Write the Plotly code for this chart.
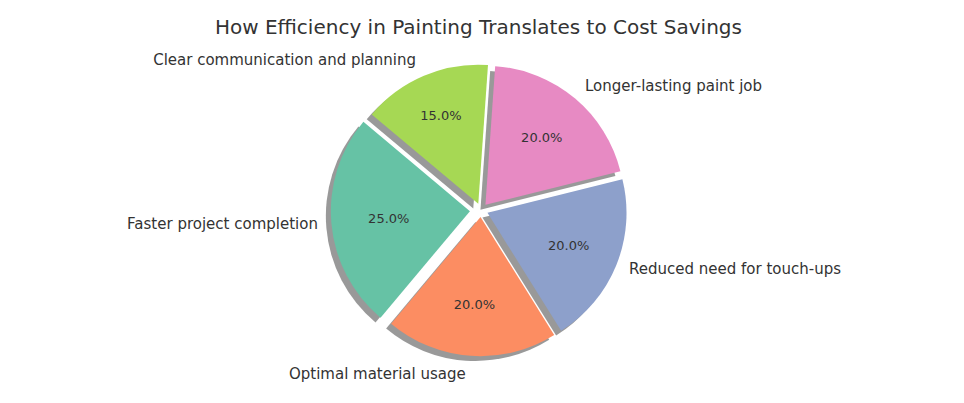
import plotly.graph_objects as go

categories = ["Faster project completion", "Optimal material usage",
              "Reduced need for touch-ups", "Longer-lasting paint job",
              "Clear communication and planning"]
values = [25, 20, 20, 20, 15]
colors = ["#66c2a5", "#fc8d62", "#8da0cb", "#e78ac3", "#a6d854"]
pulls = [0.08, 0.05, 0.05, 0.05, 0.05]

W, H = 964, 403
cx, cy = 473, 210      # pie centre in px from top-left
half = 156             # half-size of pie domain in px
sdx, sdy = -5, 5       # shadow offset in px
label_scale = 1.06     # labels sit slightly outside the wedges

def dom(dx=0, dy=0, s=1.0):
    h = half * s
    x0 = (cx + dx - h) / W
    x1 = (cx + dx + h) / W
    y0 = (H - (cy + dy) - h) / H
    y1 = (H - (cy + dy) + h) / H
    return dict(x=[x0, x1], y=[y0, y1])

common = dict(values=values, labels=categories, sort=False,
              direction="counterclockwise", rotation=-140, pull=pulls,
              showlegend=False, hoverinfo="skip")

fig = go.Figure()
# shadow
fig.add_trace(go.Pie(**common, domain=dom(sdx, sdy),
                     marker=dict(colors=["rgba(0,0,0,0.4)"] * 5, line=dict(width=0)),
                     textinfo="none"))
# main wedges with percentages
fig.add_trace(go.Pie(**common, domain=dom(),
                     marker=dict(colors=colors, line=dict(width=0)),
                     texttemplate="%{percent:.1%}", textposition="inside",
                     insidetextorientation="horizontal",
                     textfont=dict(family="DejaVu Sans", size=13, color="#333333")))
# outside labels
fig.add_trace(go.Pie(**common, domain=dom(s=label_scale),
                     marker=dict(colors=["rgba(0,0,0,0)"] * 5, line=dict(width=0)),
                     textinfo="label", textposition="outside",
                     outsidetextfont=dict(family="DejaVu Sans", size=15, color="#333333")))

fig.update_layout(
    width=W, height=H,
    margin=dict(l=0, r=0, t=0, b=0),
    paper_bgcolor="white", plot_bgcolor="white",
    title=dict(text="How Efficiency in Painting Translates to Cost Savings",
               x=0.488, xanchor="center", y=0.953, yanchor="middle",
               font=dict(family="DejaVu Sans", size=20, color="#333333")),
)
fig.write_html("out.html")
